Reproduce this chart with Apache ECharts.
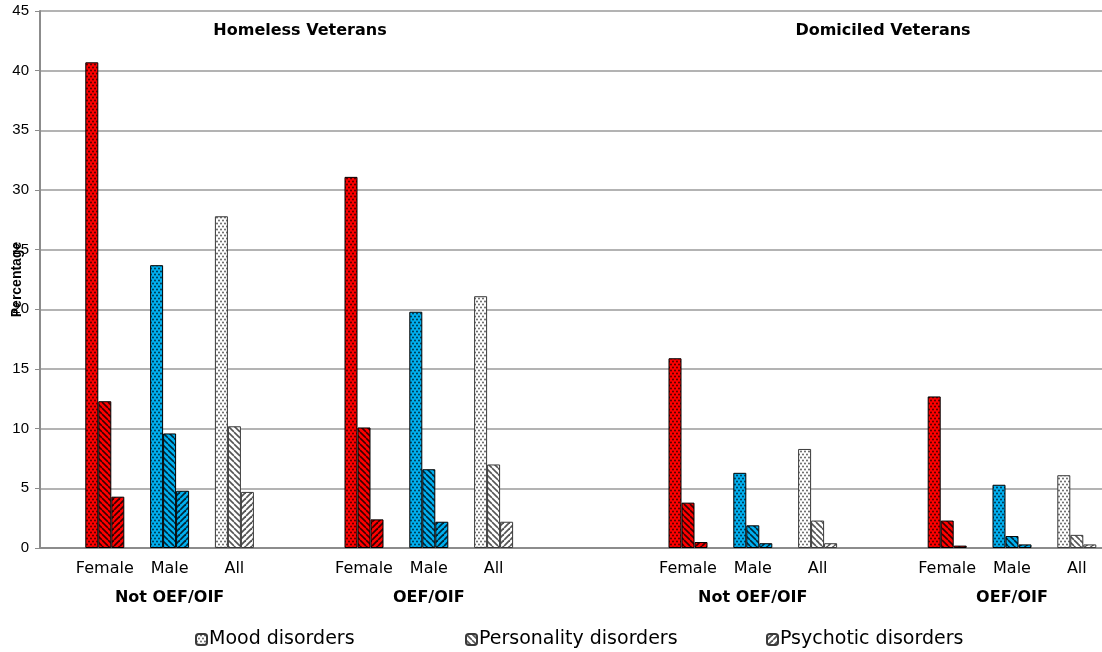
<!DOCTYPE html>
<html>
<head>
<meta charset="utf-8">
<script src="https://cdn.jsdelivr.net/npm/echarts@6/dist/echarts.min.js"></script>
<style>
html,body{margin:0;padding:0;background:#fff;}
#chart{width:1102px;height:652px;}
</style>
</head>
<body>
<div id="chart"></div>
<script>
// ---- data ----
const categories = ['', 'Female', 'Male', 'All', '', 'Female', 'Male', 'All', '', '', 'Female', 'Male', 'All', '', 'Female', 'Male', 'All', ''];
const groupLabels = ['', '', 'Not OEF/OIF', '', '', '', 'OEF/OIF', '', '', '', '', 'Not OEF/OIF', '', '', '', 'OEF/OIF', '', ''];
const moodValues        = ['-', 40.7, 23.7, 27.8, '-', 31.1, 19.8, 21.1, '-', '-', 15.9, 6.3, 8.3, '-', 12.7, 5.3, 6.1, '-'];
const personalityValues = ['-', 12.3, 9.6, 10.2, '-', 10.1, 6.6, 7.0, '-', '-', 3.8, 1.9, 2.3, '-', 2.3, 1.0, 1.1, '-'];
const psychoticValues   = ['-', 4.3, 4.8, 4.7, '-', 2.4, 2.2, 2.2, '-', '-', 0.5, 0.4, 0.4, '-', 0.2, 0.3, 0.3, '-'];
const seriesNames = ['Mood disorders', 'Personality disorders', 'Psychotic disorders'];
const panelTitles = ['Homeless Veterans', 'Domiciled Veterans'];
const yTickMin = 0, yTickMax = 45, yTickStep = 5;

// ---- patterns ----
function makePattern(bg, fg, kind) {
  const c = document.createElement('canvas');
  let w = 6, h = 6;
  if (kind === 'dots') { w = 4; h = 6; }
  c.width = w; c.height = h;
  const g = c.getContext('2d');
  g.fillStyle = bg; g.fillRect(0, 0, w, h);
  g.fillStyle = fg; g.strokeStyle = fg;
  if (kind === 'dots') {
    g.beginPath(); g.arc(1, 1.5, 0.9, 0, Math.PI * 2); g.fill();
    g.beginPath(); g.arc(3, 4.5, 0.9, 0, Math.PI * 2); g.fill();
  } else if (kind === 'back') {
    g.lineWidth = 1.6;
    for (const k of [-w, 0, w]) { g.beginPath(); g.moveTo(k, 0); g.lineTo(k + w, h); g.stroke(); }
  } else {
    g.lineWidth = 1.8;
    for (const k of [-w, 0, w]) { g.beginPath(); g.moveTo(k + w, 0); g.lineTo(k, h); g.stroke(); }
  }
  return { image: c, repeat: 'repeat' };
}
const kinds = ['dots', 'back', 'fwd'];
const genderStyle = {
  Female: { bg: '#ff0000', fg: '#3a0000', border: '#000000' },
  Male:   { bg: '#00b0f0', fg: '#00283a', border: '#000000' },
  All:    { bg: '#ffffff', fg: '#555555', border: '#3a3a3a' }
};
const valueLists = [moodValues, personalityValues, psychoticValues];

const series = seriesNames.map((name, si) => ({
  name: name,
  type: 'bar',
  barWidth: 13,
  barGap: '0%',
  itemStyle: { color: makePattern('#ffffff', '#555555', kinds[si]), borderColor: '#3a3a3a', borderWidth: 1 },
  data: valueLists[si].map((v, i) => {
    const gs = genderStyle[categories[i]];
    if (!gs || v === '-') return '-';
    return { value: v, itemStyle: { color: makePattern(gs.bg, gs.fg, kinds[si]), borderColor: gs.border, borderWidth: 1 } };
  })
}));

const chart = echarts.init(document.getElementById('chart'), null, { renderer: 'canvas' });
const legendLefts = [190, 460, 761];
chart.setOption({
  animation: false,
  backgroundColor: '#ffffff',
  grid: { left: 40, top: 11, width: 1101.6, height: 537, containLabel: false, outerBoundsMode: 'none' },
  xAxis: {
    type: 'category',
    data: categories,
    boundaryGap: false,
    axisLine: { lineStyle: { color: '#8c8c8c', width: 2 } },
    axisTick: { show: false },
    splitLine: { show: false },
    axisLabel: {
      interval: 0,
      margin: 6,
      color: '#000',
      hideOverlap: false,
      formatter: function (val, idx) {
        if (!val) return '';
        const g = groupLabels[idx];
        return g ? '{a|' + val + '}\n{b|' + g + '}' : '{a|' + val + '}';
      },
      rich: {
        a: { fontFamily: 'DejaVu Sans', fontSize: 16, lineHeight: 29, color: '#000' },
        b: { fontFamily: 'DejaVu Sans', fontWeight: 'bold', fontSize: 16, lineHeight: 29, color: '#000' }
      }
    }
  },
  yAxis: {
    type: 'value',
    min: yTickMin, max: yTickMax, interval: yTickStep,
    name: 'Percentage',
    nameLocation: 'middle',
    nameRotate: 90,
    nameGap: 16,
    nameMoveOverlap: false,
    nameTextStyle: { fontFamily: 'Liberation Sans', fontWeight: 'bold', fontSize: 14, color: '#000' },
    axisLine: { show: true, lineStyle: { color: '#8c8c8c', width: 2 } },
    axisTick: { show: true, length: 5, lineStyle: { color: '#8c8c8c' } },
    axisLabel: { margin: 11, fontFamily: 'Liberation Sans', fontSize: 15, color: '#000' },
    splitLine: { lineStyle: { color: '#9a9a9a', width: 1.5 } }
  },
  legend: seriesNames.map((n, i) => ({
    data: [n],
    left: legendLefts[i],
    top: 625,
    itemWidth: 11, itemHeight: 11,
    itemGap: 4,
    selectedMode: false,
    textStyle: { fontFamily: 'DejaVu Sans', fontSize: 19, color: '#000', padding: [0, 0, 0, -3] }
  })),
  graphic: [
    { type: 'text', x: 300, y: 31, style: { text: panelTitles[0], align: 'center', verticalAlign: 'middle', font: 'bold 16px "DejaVu Sans"', fill: '#000' } },
    { type: 'text', x: 883, y: 31, style: { text: panelTitles[1], align: 'center', verticalAlign: 'middle', font: 'bold 16px "DejaVu Sans"', fill: '#000' } }
  ],
  series: series
});
</script>
</body>
</html>
